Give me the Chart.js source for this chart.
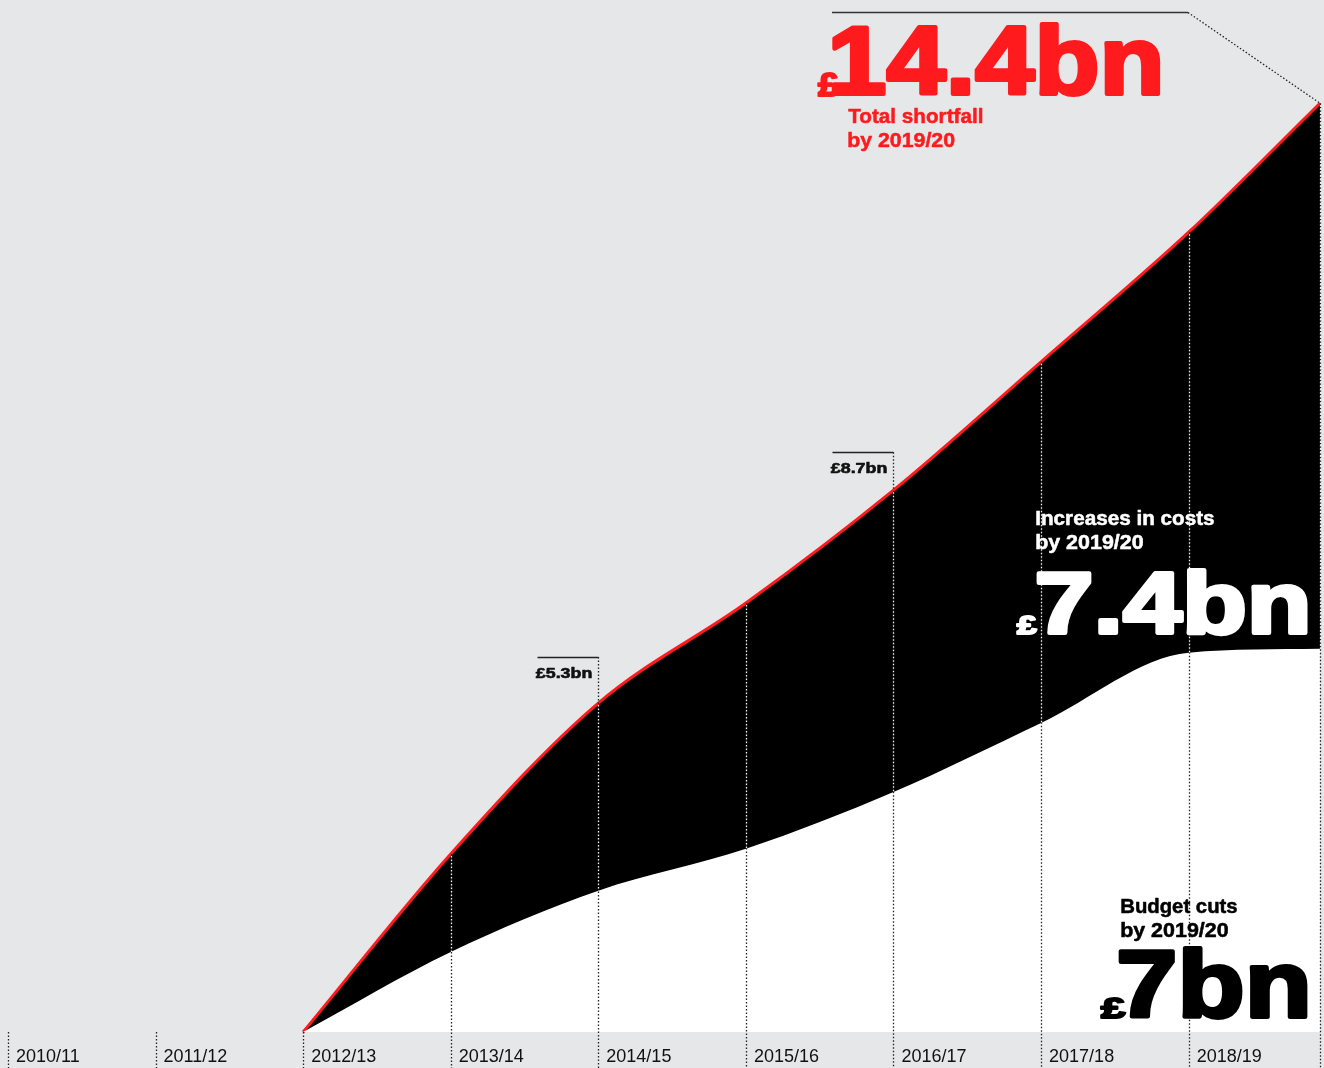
<!DOCTYPE html>
<html>
<head>
<meta charset="utf-8">
<script src="https://cdn.jsdelivr.net/npm/chart.js@4.4.0/dist/chart.umd.min.js"></script>
<style>
html, body { margin: 0; padding: 0; background: #e6e7e8; }
canvas { display: block; }
</style>
</head>
<body>
<canvas id="myChart" width="1324" height="1068"></canvas>
<script>
// x axis: one column per financial year, values sit on the year boundaries
var years = ['2010/11', '2011/12', '2012/13', '2013/14', '2014/15', '2015/16', '2016/17', '2017/18', '2018/19'];
// boundary positions (0 = start of 2010/11), last one is 2019/20 where the picture is cut off
var pointYears = [2, 3, 4, 5, 6, 7, 8, 8.89];
// £bn
var totalShortfall = [0, 2.76, 5.10, 6.65, 8.40, 10.39, 12.40, 14.4];
var budgetCuts = [0, 1.24, 2.19, 2.84, 3.72, 4.79, 5.88, 5.94];
// small callouts on the red line (index into the arrays above)
var calloutAt = [2, 4];
var calloutText = ['£5.3bn', '£8.7bn'];
var calloutLift = [46, 38];

var FONT = '"Liberation Sans", Arial, sans-serif';
var RED = '#ff1a1d';

function toPoints(vals) {
    return vals.map(function (v, i) { return { x: pointYears[i], y: v }; });
}

// draw bold text so its ink box starts at x, sits on base, is cap px tall and inkW wide.
// sw > 0 adds an outline in the same colour to make the face heavier
function fitText(ctx, text, x, base, cap, inkW, color, sw) {
    sw = sw || 0;
    var size = (cap - sw) / 0.716;
    ctx.font = 'bold ' + size + 'px ' + FONT;
    var m = ctx.measureText(text);
    var w = m.actualBoundingBoxLeft + m.actualBoundingBoxRight;
    var sx = (inkW - sw) / w;
    ctx.save();
    ctx.translate(x + sw / 2, base - sw / 2);
    ctx.scale(sx, 1);
    ctx.fillStyle = color;
    ctx.textAlign = 'left';
    ctx.textBaseline = 'alphabetic';
    ctx.fillText(text, m.actualBoundingBoxLeft, 0);
    if (sw) {
        ctx.strokeStyle = color;
        ctx.lineWidth = sw;
        ctx.lineJoin = 'round';
        ctx.strokeText(text, m.actualBoundingBoxLeft, 0);
    }
    ctx.restore();
}

function vline(ctx, x, y0, y1, color) {
    ctx.strokeStyle = color;
    ctx.beginPath();
    ctx.moveTo(x, y0);
    ctx.lineTo(x, y1);
    ctx.stroke();
}

var dotLines = {
    id: 'dotLines',
    afterDatasetsDraw: function (chart) {
        var ctx = chart.ctx, xs = chart.scales.x, ys = chart.scales.y;
        var stops = years.map(function (_, i) { return i; });
        stops.push(pointYears[pointYears.length - 1]);
        ctx.save();
        ctx.lineWidth = 1.3;
        ctx.setLineDash([1.5, 2]);
        stops.forEach(function (v) {
            var x = Math.round(xs.getPixelForValue(v)) + 0.5;
            var k = pointYears.indexOf(v);
            var top = ys.getPixelForValue(k < 0 ? 0 : totalShortfall[k]);
            var c = calloutAt.indexOf(k);
            if (c >= 0) top -= calloutLift[c];
            vline(ctx, x, top, chart.height, '#222');
            if (k > 0) {
                vline(ctx, x, ys.getPixelForValue(totalShortfall[k]) + 2, ys.getPixelForValue(budgetCuts[k]), '#f2f2f2');
            }
        });
        ctx.restore();
    },
    afterDraw: function (chart) {
        var ctx = chart.ctx, xs = chart.scales.x, ys = chart.scales.y;
        ctx.save();

        // callouts on the line
        calloutAt.forEach(function (k, i) {
            var px = Math.round(xs.getPixelForValue(pointYears[k])) + 0.5;
            var py = Math.round(ys.getPixelForValue(totalShortfall[k]) - calloutLift[i]) + 0.5;
            ctx.strokeStyle = '#222';
            ctx.lineWidth = 1.5;
            ctx.beginPath();
            ctx.moveTo(px - 61, py);
            ctx.lineTo(px, py);
            ctx.stroke();
            fitText(ctx, calloutText[i], px - 63, py + 21, 11, 56, '#111', 0.6);
        });

        // total shortfall headline
        var n = pointYears.length - 1;
        var ex = xs.getPixelForValue(pointYears[n]);
        var ey = ys.getPixelForValue(totalShortfall[n]);
        ctx.strokeStyle = '#333';
        ctx.lineWidth = 1.5;
        ctx.beginPath();
        ctx.moveTo(832, 12.5);
        ctx.lineTo(1188, 12.5);
        ctx.stroke();
        ctx.lineWidth = 1.3;
        ctx.setLineDash([1.5, 2]);
        ctx.strokeStyle = '#222';
        ctx.beginPath();
        ctx.moveTo(1188, 12.5);
        ctx.lineTo(ex, ey);
        ctx.stroke();
        ctx.setLineDash([]);

        fitText(ctx, '£', 817, 97, 26, 23, RED, 2);
        fitText(ctx, '14.4bn', 832, 96, 73, 328, RED, 4);
        fitText(ctx, 'Total shortfall', 848, 123, 15, 135, RED, 0.5);
        fitText(ctx, 'by 2019/20', 848, 147, 15, 107, RED, 0.5);

        fitText(ctx, 'Increases in costs', 1036, 525, 14.5, 179, '#fff', 0.5);
        fitText(ctx, 'by 2019/20', 1036, 549, 14.5, 108, '#fff', 0.5);
        fitText(ctx, '£', 1016, 635, 21, 22, '#fff', 2);
        fitText(ctx, '7.4bn', 1036, 635, 67, 272, '#fff', 4);

        fitText(ctx, 'Budget cuts', 1121, 913, 14.5, 117, '#000', 0.5);
        fitText(ctx, 'by 2019/20', 1121, 937, 14.5, 108, '#000', 0.5);
        fitText(ctx, '£', 1100, 1019, 23, 26, '#000', 2);
        fitText(ctx, '7bn', 1119, 1019, 72, 189, '#000', 4);

        ctx.restore();
    }
};

var ctx = document.getElementById('myChart');
var myChart = new Chart(ctx, {
    type: 'line',
    data: {
        datasets: [{
            label: 'Budget cuts',
            data: toPoints(budgetCuts),
            fill: 'origin',
            backgroundColor: '#ffffff',
            borderWidth: 0,
            pointRadius: 0,
            cubicInterpolationMode: 'monotone',
            clip: 6
        },
        {
            label: 'Total shortfall',
            data: toPoints(totalShortfall),
            fill: 'origin',
            backgroundColor: '#000000',
            borderColor: RED,
            borderWidth: 3,
            pointRadius: 0,
            cubicInterpolationMode: 'monotone',
            clip: 6
        }]
    },
    options: {
        responsive: false,
        animation: false,
        events: [],
        layout: { padding: { left: 8, right: 4, top: 0, bottom: 0 } },
        plugins: { legend: { display: false }, tooltip: { enabled: false } },
        scales: {
            x: {
                type: 'linear',
                min: 0,
                max: pointYears[pointYears.length - 1],
                afterBuildTicks: function (axis) {
                    axis.ticks = years.map(function (_, i) { return { value: i }; });
                },
                afterFit: function (axis) { axis.height = 36; },
                grid: { display: false, drawTicks: false },
                border: { display: false },
                ticks: {
                    callback: function (v) { return years[v]; },
                    align: 'start',
                    labelOffset: 8,
                    padding: 8,
                    autoSkip: false,
                    maxRotation: 0,
                    minRotation: 0,
                    color: '#111',
                    font: { family: FONT, size: 18, lineHeight: 1.9 }
                }
            },
            y: {
                display: false,
                min: 0,
                max: 16
            }
        }
    },
    plugins: [dotLines]
});
</script>
</body>
</html>
